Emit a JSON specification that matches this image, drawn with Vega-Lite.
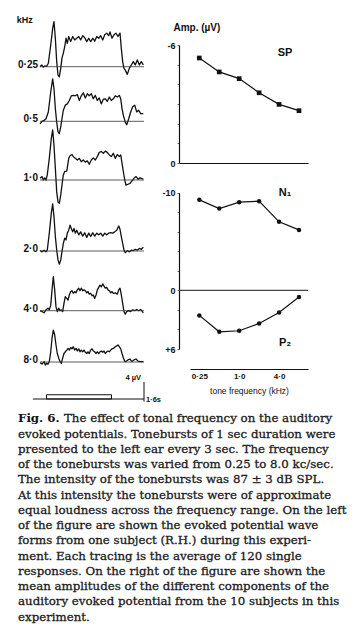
{
"$schema": "https://vega.github.io/schema/vega-lite/v6.json",
"width": 356, "height": 640, "autosize": "none", "padding": 0, "background": "white",
"config": {"view": {"stroke": null}, "axis": {"grid": false, "labelFont": "Liberation Sans", "labelFontWeight": "bold", "labelFontSize": 9, "labelColor": "#111", "domainColor": "#111", "domainWidth": 1.2, "tickColor": "#111", "titleFont": "Liberation Sans", "titleFontWeight": "bold", "titleFontSize": 9, "titleColor": "#111"}},
"datasets": {
"waves": [
{"f":"0.25","t":0,"v":0},{"f":"0.25","t":26,"v":-0.4},{"f":"0.25","t":51,"v":0.1},{"f":"0.25","t":77,"v":-0.2},{"f":"0.25","t":103,"v":-0.1},{"f":"0.25","t":128,"v":-0.8},{"f":"0.25","t":165,"v":-5.1},{"f":"0.25","t":195,"v":-9.0},{"f":"0.25","t":215,"v":-10.6},{"f":"0.25","t":236,"v":-6.7},{"f":"0.25","t":257,"v":-1.2},{"f":"0.25","t":277,"v":2.0},{"f":"0.25","t":297,"v":2.4},{"f":"0.25","t":319,"v":0.4},{"f":"0.25","t":338,"v":-2.0},{"f":"0.25","t":359,"v":-3.2},{"f":"0.25","t":380,"v":-4.7},{"f":"0.25","t":400,"v":-6.7},{"f":"0.25","t":420,"v":-5.5},{"f":"0.25","t":442,"v":-7.1},{"f":"0.25","t":472,"v":-5.9},{"f":"0.25","t":503,"v":-7.1},{"f":"0.25","t":534,"v":-6.3},{"f":"0.25","t":565,"v":-6.7},{"f":"0.25","t":596,"v":-7.1},{"f":"0.25","t":626,"v":-6.3},{"f":"0.25","t":657,"v":-7.3},{"f":"0.25","t":688,"v":-6.8},{"f":"0.25","t":719,"v":-5.9},{"f":"0.25","t":750,"v":-6.7},{"f":"0.25","t":780,"v":-5.9},{"f":"0.25","t":811,"v":-6.7},{"f":"0.25","t":842,"v":-6.0},{"f":"0.25","t":873,"v":-7.1},{"f":"0.25","t":903,"v":-6.7},{"f":"0.25","t":934,"v":-7.3},{"f":"0.25","t":965,"v":-6.3},{"f":"0.25","t":996,"v":-7.5},{"f":"0.25","t":1026,"v":-7.9},{"f":"0.25","t":1057,"v":-7.3},{"f":"0.25","t":1077,"v":-8.2},{"f":"0.25","t":1108,"v":-6.7},{"f":"0.25","t":1138,"v":-7.5},{"f":"0.25","t":1169,"v":-7.9},{"f":"0.25","t":1200,"v":-7.1},{"f":"0.25","t":1231,"v":-7.9},{"f":"0.25","t":1251,"v":-4.3},{"f":"0.25","t":1272,"v":-1.2},{"f":"0.25","t":1292,"v":0.4},{"f":"0.25","t":1312,"v":0.8},{"f":"0.25","t":1343,"v":1.8},{"f":"0.25","t":1374,"v":0.4},{"f":"0.25","t":1405,"v":-0.4},{"f":"0.25","t":1436,"v":-1.2},{"f":"0.25","t":1466,"v":-0.4},{"f":"0.25","t":1497,"v":-1.6},{"f":"0.25","t":1528,"v":-0.4},{"f":"0.25","t":1559,"v":-1.2},{"f":"0.25","t":1590,"v":-0.4},
{"f":"0.5","t":0,"v":0.6},{"f":"0.5","t":31,"v":0},{"f":"0.5","t":62,"v":-0.2},{"f":"0.5","t":92,"v":-0.6},{"f":"0.5","t":128,"v":-2.2},{"f":"0.5","t":165,"v":-6.9},{"f":"0.5","t":195,"v":-10.0},{"f":"0.5","t":215,"v":-7.7},{"f":"0.5","t":236,"v":-3.0},{"f":"0.5","t":257,"v":0.2},{"f":"0.5","t":277,"v":2.5},{"f":"0.5","t":297,"v":2.9},{"f":"0.5","t":319,"v":1.3},{"f":"0.5","t":338,"v":-0.6},{"f":"0.5","t":359,"v":-2.6},{"f":"0.5","t":389,"v":-3.8},{"f":"0.5","t":420,"v":-4.1},{"f":"0.5","t":451,"v":-4.9},{"f":"0.5","t":482,"v":-6.0},{"f":"0.5","t":512,"v":-6.1},{"f":"0.5","t":543,"v":-6.0},{"f":"0.5","t":574,"v":-6.3},{"f":"0.5","t":605,"v":-4.9},{"f":"0.5","t":635,"v":-6.0},{"f":"0.5","t":666,"v":-6.7},{"f":"0.5","t":697,"v":-5.5},{"f":"0.5","t":728,"v":-6.5},{"f":"0.5","t":758,"v":-6.0},{"f":"0.5","t":789,"v":-6.5},{"f":"0.5","t":820,"v":-5.3},{"f":"0.5","t":851,"v":-6.1},{"f":"0.5","t":882,"v":-4.9},{"f":"0.5","t":912,"v":-5.5},{"f":"0.5","t":943,"v":-4.1},{"f":"0.5","t":974,"v":-5.2},{"f":"0.5","t":1005,"v":-5.3},{"f":"0.5","t":1035,"v":-4.7},{"f":"0.5","t":1066,"v":-5.7},{"f":"0.5","t":1097,"v":-4.9},{"f":"0.5","t":1128,"v":-5.3},{"f":"0.5","t":1158,"v":-6.0},{"f":"0.5","t":1189,"v":-5.7},{"f":"0.5","t":1220,"v":-6.1},{"f":"0.5","t":1242,"v":-5.3},{"f":"0.5","t":1262,"v":-3.0},{"f":"0.5","t":1282,"v":-1.4},{"f":"0.5","t":1312,"v":0.2},{"f":"0.5","t":1334,"v":0.8},{"f":"0.5","t":1365,"v":-0.6},{"f":"0.5","t":1395,"v":-2.2},{"f":"0.5","t":1426,"v":-3.4},{"f":"0.5","t":1457,"v":-3.8},{"f":"0.5","t":1488,"v":-2.2},{"f":"0.5","t":1518,"v":-2.6},{"f":"0.5","t":1549,"v":-1.8},{"f":"0.5","t":1589,"v":-1.8},
{"f":"1.0","t":0,"v":-0.4},{"f":"1.0","t":31,"v":-0.8},{"f":"1.0","t":51,"v":0},{"f":"1.0","t":72,"v":-0.5},{"f":"1.0","t":92,"v":0},{"f":"1.0","t":112,"v":-1.2},{"f":"1.0","t":143,"v":-5.1},{"f":"1.0","t":174,"v":-9.8},{"f":"1.0","t":195,"v":-11.8},{"f":"1.0","t":215,"v":-8.2},{"f":"1.0","t":236,"v":-2.8},{"f":"1.0","t":257,"v":2.8},{"f":"1.0","t":277,"v":5.2},{"f":"1.0","t":297,"v":5.5},{"f":"1.0","t":319,"v":3.5},{"f":"1.0","t":338,"v":1.2},{"f":"1.0","t":359,"v":-1.2},{"f":"1.0","t":380,"v":-2.0},{"f":"1.0","t":412,"v":-2.1},{"f":"1.0","t":442,"v":-5.1},{"f":"1.0","t":462,"v":-5.7},{"f":"1.0","t":492,"v":-6.0},{"f":"1.0","t":512,"v":-5.5},{"f":"1.0","t":543,"v":-5.1},{"f":"1.0","t":574,"v":-4.7},{"f":"1.0","t":605,"v":-5.1},{"f":"1.0","t":635,"v":-4.3},{"f":"1.0","t":666,"v":-4.7},{"f":"1.0","t":697,"v":-4.2},{"f":"1.0","t":728,"v":-4.5},{"f":"1.0","t":758,"v":-3.7},{"f":"1.0","t":789,"v":-4.7},{"f":"1.0","t":820,"v":-5.2},{"f":"1.0","t":851,"v":-4.7},{"f":"1.0","t":882,"v":-5.5},{"f":"1.0","t":912,"v":-6.5},{"f":"1.0","t":943,"v":-6.7},{"f":"1.0","t":974,"v":-6.3},{"f":"1.0","t":1005,"v":-6.8},{"f":"1.0","t":1035,"v":-6.5},{"f":"1.0","t":1066,"v":-5.9},{"f":"1.0","t":1097,"v":-5.5},{"f":"1.0","t":1128,"v":-6.3},{"f":"1.0","t":1158,"v":-5.1},{"f":"1.0","t":1189,"v":-6.0},{"f":"1.0","t":1220,"v":-5.5},{"f":"1.0","t":1242,"v":-5.9},{"f":"1.0","t":1262,"v":-3.9},{"f":"1.0","t":1282,"v":-2.0},{"f":"1.0","t":1303,"v":0},{"f":"1.0","t":1323,"v":1.2},{"f":"1.0","t":1354,"v":1.0},{"f":"1.0","t":1385,"v":0.8},{"f":"1.0","t":1415,"v":0.2},{"f":"1.0","t":1446,"v":-0.4},{"f":"1.0","t":1477,"v":-0.8},{"f":"1.0","t":1508,"v":-0.2},{"f":"1.0","t":1538,"v":-0.5},{"f":"1.0","t":1589,"v":-0.2},
{"f":"2.0","t":0,"v":-0.1},{"f":"2.0","t":31,"v":0.2},{"f":"2.0","t":62,"v":-0.2},{"f":"2.0","t":92,"v":0.2},{"f":"2.0","t":112,"v":-0.2},{"f":"2.0","t":143,"v":-4.2},{"f":"2.0","t":174,"v":-8.9},{"f":"2.0","t":195,"v":-11.1},{"f":"2.0","t":215,"v":-8.1},{"f":"2.0","t":236,"v":-3.4},{"f":"2.0","t":257,"v":-0.2},{"f":"2.0","t":277,"v":2.1},{"f":"2.0","t":297,"v":3.1},{"f":"2.0","t":319,"v":2.1},{"f":"2.0","t":338,"v":0.2},{"f":"2.0","t":359,"v":-1.8},{"f":"2.0","t":380,"v":-3.0},{"f":"2.0","t":400,"v":-2.6},{"f":"2.0","t":420,"v":-4.2},{"f":"2.0","t":442,"v":-4.9},{"f":"2.0","t":462,"v":-6.1},{"f":"2.0","t":482,"v":-5.3},{"f":"2.0","t":503,"v":-4.5},{"f":"2.0","t":523,"v":-5.3},{"f":"2.0","t":543,"v":-4.2},{"f":"2.0","t":565,"v":-4.9},{"f":"2.0","t":596,"v":-3.8},{"f":"2.0","t":626,"v":-4.5},{"f":"2.0","t":657,"v":-3.5},{"f":"2.0","t":688,"v":-4.3},{"f":"2.0","t":719,"v":-3.2},{"f":"2.0","t":750,"v":-4.2},{"f":"2.0","t":780,"v":-3.4},{"f":"2.0","t":811,"v":-4.3},{"f":"2.0","t":842,"v":-3.5},{"f":"2.0","t":873,"v":-4.2},{"f":"2.0","t":903,"v":-3.8},{"f":"2.0","t":934,"v":-4.2},{"f":"2.0","t":965,"v":-3.5},{"f":"2.0","t":996,"v":-4.2},{"f":"2.0","t":1026,"v":-3.8},{"f":"2.0","t":1057,"v":-4.2},{"f":"2.0","t":1088,"v":-4.3},{"f":"2.0","t":1119,"v":-4.2},{"f":"2.0","t":1149,"v":-4.5},{"f":"2.0","t":1180,"v":-4.9},{"f":"2.0","t":1211,"v":-5.9},{"f":"2.0","t":1231,"v":-5.1},{"f":"2.0","t":1251,"v":-3.4},{"f":"2.0","t":1272,"v":-1.8},{"f":"2.0","t":1292,"v":-0.2},{"f":"2.0","t":1312,"v":0.4},{"f":"2.0","t":1343,"v":-0.1},{"f":"2.0","t":1374,"v":0.2},{"f":"2.0","t":1405,"v":-0.2},{"f":"2.0","t":1436,"v":-0.1},{"f":"2.0","t":1466,"v":-0.4},{"f":"2.0","t":1497,"v":-0.2},{"f":"2.0","t":1528,"v":-0.6},{"f":"2.0","t":1559,"v":-0.4},{"f":"2.0","t":1590,"v":-0.9},
{"f":"4.0","t":0,"v":0},{"f":"4.0","t":31,"v":0.2},{"f":"4.0","t":62,"v":0.5},{"f":"4.0","t":92,"v":-0.2},{"f":"4.0","t":123,"v":-0.6},{"f":"4.0","t":143,"v":-0.2},{"f":"4.0","t":165,"v":-1.3},{"f":"4.0","t":185,"v":-4.9},{"f":"4.0","t":205,"v":-8.0},{"f":"4.0","t":226,"v":-4.9},{"f":"4.0","t":246,"v":-0.9},{"f":"4.0","t":266,"v":0.2},{"f":"4.0","t":288,"v":-0.6},{"f":"4.0","t":308,"v":0},{"f":"4.0","t":328,"v":-0.2},{"f":"4.0","t":349,"v":0.2},{"f":"4.0","t":369,"v":-1.7},{"f":"4.0","t":389,"v":-3.3},{"f":"4.0","t":412,"v":-2.9},{"f":"4.0","t":431,"v":-2.5},{"f":"4.0","t":451,"v":-3.7},{"f":"4.0","t":472,"v":-4.5},{"f":"4.0","t":492,"v":-4.7},{"f":"4.0","t":512,"v":-4.1},{"f":"4.0","t":534,"v":-4.5},{"f":"4.0","t":554,"v":-4.2},{"f":"4.0","t":574,"v":-4.9},{"f":"4.0","t":596,"v":-5.3},{"f":"4.0","t":615,"v":-4.7},{"f":"4.0","t":635,"v":-5.3},{"f":"4.0","t":657,"v":-4.7},{"f":"4.0","t":677,"v":-4.9},{"f":"4.0","t":697,"v":-4.7},{"f":"4.0","t":719,"v":-4.2},{"f":"4.0","t":738,"v":-4.5},{"f":"4.0","t":758,"v":-3.9},{"f":"4.0","t":780,"v":-4.1},{"f":"4.0","t":800,"v":-3.5},{"f":"4.0","t":820,"v":-3.7},{"f":"4.0","t":842,"v":-2.9},{"f":"4.0","t":862,"v":-3.7},{"f":"4.0","t":882,"v":-4.9},{"f":"4.0","t":903,"v":-5.5},{"f":"4.0","t":923,"v":-6.0},{"f":"4.0","t":943,"v":-5.6},{"f":"4.0","t":965,"v":-6.3},{"f":"4.0","t":985,"v":-5.8},{"f":"4.0","t":1005,"v":-5.3},{"f":"4.0","t":1026,"v":-5.5},{"f":"4.0","t":1046,"v":-4.9},{"f":"4.0","t":1066,"v":-4.7},{"f":"4.0","t":1088,"v":-4.2},{"f":"4.0","t":1108,"v":-4.5},{"f":"4.0","t":1128,"v":-4.1},{"f":"4.0","t":1158,"v":-4.2},{"f":"4.0","t":1189,"v":-3.9},{"f":"4.0","t":1211,"v":-4.9},{"f":"4.0","t":1231,"v":-5.3},{"f":"4.0","t":1251,"v":-3.7},{"f":"4.0","t":1272,"v":-1.7},{"f":"4.0","t":1292,"v":0.2},{"f":"4.0","t":1312,"v":0.8},{"f":"4.0","t":1334,"v":0.2},{"f":"4.0","t":1365,"v":0},{"f":"4.0","t":1395,"v":0.2},{"f":"4.0","t":1426,"v":-0.2},{"f":"4.0","t":1457,"v":0},{"f":"4.0","t":1488,"v":-0.3},{"f":"4.0","t":1518,"v":0},{"f":"4.0","t":1549,"v":-0.3},{"f":"4.0","t":1589,"v":0.5},
{"f":"8.0","t":0,"v":0.1},{"f":"8.0","t":31,"v":0.5},{"f":"8.0","t":62,"v":-0.1},{"f":"8.0","t":82,"v":0.7},{"f":"8.0","t":103,"v":0.3},{"f":"8.0","t":123,"v":0.5},{"f":"8.0","t":143,"v":-0.1},{"f":"8.0","t":165,"v":-2.4},{"f":"8.0","t":185,"v":-5.6},{"f":"8.0","t":205,"v":-7.5},{"f":"8.0","t":226,"v":-6.4},{"f":"8.0","t":246,"v":-4.0},{"f":"8.0","t":266,"v":-2.0},{"f":"8.0","t":288,"v":-0.9},{"f":"8.0","t":308,"v":-0.1},{"f":"8.0","t":328,"v":0.3},{"f":"8.0","t":349,"v":-0.9},{"f":"8.0","t":369,"v":-2.0},{"f":"8.0","t":389,"v":-2.4},{"f":"8.0","t":412,"v":-2.8},{"f":"8.0","t":431,"v":-3.2},{"f":"8.0","t":451,"v":-2.8},{"f":"8.0","t":472,"v":-3.4},{"f":"8.0","t":492,"v":-3.1},{"f":"8.0","t":512,"v":-3.6},{"f":"8.0","t":534,"v":-2.8},{"f":"8.0","t":554,"v":-3.2},{"f":"8.0","t":574,"v":-2.6},{"f":"8.0","t":596,"v":-3.1},{"f":"8.0","t":615,"v":-2.4},{"f":"8.0","t":635,"v":-2.8},{"f":"8.0","t":657,"v":-2.4},{"f":"8.0","t":677,"v":-2.8},{"f":"8.0","t":697,"v":-2.3},{"f":"8.0","t":719,"v":-2.0},{"f":"8.0","t":738,"v":-2.4},{"f":"8.0","t":758,"v":-2.0},{"f":"8.0","t":780,"v":-2.8},{"f":"8.0","t":800,"v":-3.1},{"f":"8.0","t":820,"v":-2.6},{"f":"8.0","t":842,"v":-2.4},{"f":"8.0","t":862,"v":-2.0},{"f":"8.0","t":882,"v":-2.4},{"f":"8.0","t":903,"v":-2.0},{"f":"8.0","t":923,"v":-2.4},{"f":"8.0","t":943,"v":-2.6},{"f":"8.0","t":965,"v":-2.3},{"f":"8.0","t":985,"v":-2.6},{"f":"8.0","t":1005,"v":-2.0},{"f":"8.0","t":1026,"v":-2.4},{"f":"8.0","t":1046,"v":-2.6},{"f":"8.0","t":1066,"v":-2.4},{"f":"8.0","t":1088,"v":-2.8},{"f":"8.0","t":1108,"v":-3.1},{"f":"8.0","t":1128,"v":-3.2},{"f":"8.0","t":1158,"v":-3.6},{"f":"8.0","t":1180,"v":-3.8},{"f":"8.0","t":1200,"v":-4.0},{"f":"8.0","t":1220,"v":-3.6},{"f":"8.0","t":1242,"v":-3.1},{"f":"8.0","t":1262,"v":-2.0},{"f":"8.0","t":1282,"v":-1.0},{"f":"8.0","t":1303,"v":-0.2},{"f":"8.0","t":1323,"v":-0.1},{"f":"8.0","t":1354,"v":-0.5},{"f":"8.0","t":1385,"v":-0.7},{"f":"8.0","t":1415,"v":-0.1},{"f":"8.0","t":1446,"v":-0.5},{"f":"8.0","t":1477,"v":-0.7},{"f":"8.0","t":1508,"v":-0.2},{"f":"8.0","t":1538,"v":-0.1},{"f":"8.0","t":1589,"v":-0.1}
],
"amp": [
{"c":"SP","f":0.25,"v":-5.34},{"c":"SP","f":0.5,"v":-4.63},{"c":"SP","f":1,"v":-4.29},{"c":"SP","f":2,"v":-3.57},{"c":"SP","f":4,"v":-2.98},{"c":"SP","f":8,"v":-2.66},
{"c":"N1","f":0.25,"v":-9.27},{"c":"N1","f":0.5,"v":-8.38},{"c":"N1","f":1,"v":-9.03},{"c":"N1","f":2,"v":-9.13},{"c":"N1","f":4,"v":-7.02},{"c":"N1","f":8,"v":-6.19},
{"c":"P2","f":0.25,"v":2.56},{"c":"P2","f":0.5,"v":4.24},{"c":"P2","f":1,"v":4.13},{"c":"P2","f":2,"v":3.38},{"c":"P2","f":4,"v":2.26},{"c":"P2","f":8,"v":0.68}
],
"cap": [
{"i":1,"s":"The effect of tonal frequency on the auditory"},
{"i":2,"s":"evoked potentials. Tonebursts of 1 sec duration were"},
{"i":3,"s":"presented to the left ear every 3 sec. The frequency"},
{"i":4,"s":"of the tonebursts was varied from 0.25 to 8.0 kc/sec."},
{"i":5,"s":"The intensity of the tonebursts was 87 ± 3 dB SPL."},
{"i":6,"s":"At this intensity the tonebursts were of approximate"},
{"i":7,"s":"equal loudness across the frequency range. On the left"},
{"i":8,"s":"of the figure are shown the evoked potential wave"},
{"i":9,"s":"forms from one subject (R.H.) during this experi-"},
{"i":10,"s":"ment. Each tracing is the average of 120 single"},
{"i":11,"s":"responses. On the right of the figure are shown the"},
{"i":12,"s":"mean amplitudes of the different components of the"},
{"i":13,"s":"auditory evoked potential from the 10 subjects in this"},
{"i":14,"s":"experiment."}
]
},
"resolve": {"scale": {"x": "independent", "y": "independent"}, "axis": {"x": "independent", "y": "independent"}},
"layer": [
{"layer": [
 {"data": {"name": "waves"}, "transform": [{"filter": "datum.f == '0.25'"}], "mark": {"type": "line", "color": "#111", "strokeWidth": 1.3, "strokeJoin": "round"},
  "encoding": {"x": {"field": "t", "type": "quantitative", "scale": {"domain": [0, 1600], "range": [40, 144], "nice": false, "zero": false}, "axis": null},
   "y": {"field": "v", "type": "quantitative", "scale": {"domain": [-14, 6], "range": [7.2, 92.2], "nice": false, "zero": false}, "axis": null}}},
 {"data": {"values": [{}]}, "mark": {"type": "rule", "color": "#333", "strokeWidth": 0.8},
  "encoding": {"x": {"datum": 0, "type": "quantitative", "scale": {"domain": [0, 1600], "range": [40, 144], "nice": false, "zero": false}, "axis": null}, "x2": {"datum": 1600},
   "y": {"datum": 0, "type": "quantitative", "scale": {"domain": [-14, 6], "range": [7.2, 92.2], "nice": false, "zero": false}, "axis": null}}},
 {"data": {"values": [{"lab": "0·25"}]}, "mark": {"type": "text", "align": "right", "baseline": "alphabetic", "dx": -2, "dy": 1, "font": "Liberation Sans", "fontWeight": "bold", "fontSize": 10, "color": "#111"},
  "encoding": {"x": {"datum": 0, "type": "quantitative", "scale": {"domain": [0, 1600], "range": [40, 144], "nice": false, "zero": false}, "axis": null},
   "y": {"datum": 0, "type": "quantitative", "scale": {"domain": [-14, 6], "range": [7.2, 92.2], "nice": false, "zero": false}, "axis": null}, "text": {"field": "lab"}}},
 {"data": {"values": [{"lab": "kHz"}]}, "mark": {"type": "text", "align": "left", "baseline": "middle", "font": "Liberation Sans", "fontWeight": "bold", "fontSize": 9, "color": "#111"},
  "encoding": {"x": {"datum": -358, "type": "quantitative", "scale": {"domain": [0, 1600], "range": [40, 144], "nice": false, "zero": false}, "axis": null},
   "y": {"datum": -11, "type": "quantitative", "scale": {"domain": [-14, 6], "range": [7.2, 92.2], "nice": false, "zero": false}, "axis": null}, "text": {"field": "lab"}}}
]},
{"layer": [
 {"data": {"name": "waves"}, "transform": [{"filter": "datum.f == '0.5'"}], "mark": {"type": "line", "color": "#111", "strokeWidth": 1.3, "strokeJoin": "round"},
  "encoding": {"x": {"field": "t", "type": "quantitative", "scale": {"domain": [0, 1600], "range": [40, 144], "nice": false, "zero": false}, "axis": null},
   "y": {"field": "v", "type": "quantitative", "scale": {"domain": [-14, 6], "range": [61.8, 146.8], "nice": false, "zero": false}, "axis": null}}},
 {"data": {"values": [{}]}, "mark": {"type": "rule", "color": "#333", "strokeWidth": 0.8},
  "encoding": {"x": {"datum": 0, "type": "quantitative", "scale": {"domain": [0, 1600], "range": [40, 144], "nice": false, "zero": false}, "axis": null}, "x2": {"datum": 1600},
   "y": {"datum": 0, "type": "quantitative", "scale": {"domain": [-14, 6], "range": [61.8, 146.8], "nice": false, "zero": false}, "axis": null}}},
 {"data": {"values": [{"lab": "0·5"}]}, "mark": {"type": "text", "align": "right", "baseline": "alphabetic", "dx": -2, "dy": 1, "font": "Liberation Sans", "fontWeight": "bold", "fontSize": 10, "color": "#111"},
  "encoding": {"x": {"datum": 0, "type": "quantitative", "scale": {"domain": [0, 1600], "range": [40, 144], "nice": false, "zero": false}, "axis": null},
   "y": {"datum": 0, "type": "quantitative", "scale": {"domain": [-14, 6], "range": [61.8, 146.8], "nice": false, "zero": false}, "axis": null}, "text": {"field": "lab"}}}
]},
{"layer": [
 {"data": {"name": "waves"}, "transform": [{"filter": "datum.f == '1.0'"}], "mark": {"type": "line", "color": "#111", "strokeWidth": 1.3, "strokeJoin": "round"},
  "encoding": {"x": {"field": "t", "type": "quantitative", "scale": {"domain": [0, 1600], "range": [40, 144], "nice": false, "zero": false}, "axis": null},
   "y": {"field": "v", "type": "quantitative", "scale": {"domain": [-14, 6], "range": [120.5, 205.5], "nice": false, "zero": false}, "axis": null}}},
 {"data": {"values": [{}]}, "mark": {"type": "rule", "color": "#333", "strokeWidth": 0.8},
  "encoding": {"x": {"datum": 0, "type": "quantitative", "scale": {"domain": [0, 1600], "range": [40, 144], "nice": false, "zero": false}, "axis": null}, "x2": {"datum": 1600},
   "y": {"datum": 0, "type": "quantitative", "scale": {"domain": [-14, 6], "range": [120.5, 205.5], "nice": false, "zero": false}, "axis": null}}},
 {"data": {"values": [{"lab": "1·0"}]}, "mark": {"type": "text", "align": "right", "baseline": "alphabetic", "dx": -2, "dy": 1, "font": "Liberation Sans", "fontWeight": "bold", "fontSize": 10, "color": "#111"},
  "encoding": {"x": {"datum": 0, "type": "quantitative", "scale": {"domain": [0, 1600], "range": [40, 144], "nice": false, "zero": false}, "axis": null},
   "y": {"datum": 0, "type": "quantitative", "scale": {"domain": [-14, 6], "range": [120.5, 205.5], "nice": false, "zero": false}, "axis": null}, "text": {"field": "lab"}}}
]},
{"layer": [
 {"data": {"name": "waves"}, "transform": [{"filter": "datum.f == '2.0'"}], "mark": {"type": "line", "color": "#111", "strokeWidth": 1.3, "strokeJoin": "round"},
  "encoding": {"x": {"field": "t", "type": "quantitative", "scale": {"domain": [0, 1600], "range": [40, 144], "nice": false, "zero": false}, "axis": null},
   "y": {"field": "v", "type": "quantitative", "scale": {"domain": [-14, 6], "range": [191.5, 276.5], "nice": false, "zero": false}, "axis": null}}},
 {"data": {"values": [{}]}, "mark": {"type": "rule", "color": "#333", "strokeWidth": 0.8},
  "encoding": {"x": {"datum": 0, "type": "quantitative", "scale": {"domain": [0, 1600], "range": [40, 144], "nice": false, "zero": false}, "axis": null}, "x2": {"datum": 1600},
   "y": {"datum": 0, "type": "quantitative", "scale": {"domain": [-14, 6], "range": [191.5, 276.5], "nice": false, "zero": false}, "axis": null}}},
 {"data": {"values": [{"lab": "2·0"}]}, "mark": {"type": "text", "align": "right", "baseline": "alphabetic", "dx": -2, "dy": 1, "font": "Liberation Sans", "fontWeight": "bold", "fontSize": 10, "color": "#111"},
  "encoding": {"x": {"datum": 0, "type": "quantitative", "scale": {"domain": [0, 1600], "range": [40, 144], "nice": false, "zero": false}, "axis": null},
   "y": {"datum": 0, "type": "quantitative", "scale": {"domain": [-14, 6], "range": [191.5, 276.5], "nice": false, "zero": false}, "axis": null}, "text": {"field": "lab"}}}
]},
{"layer": [
 {"data": {"name": "waves"}, "transform": [{"filter": "datum.f == '4.0'"}], "mark": {"type": "line", "color": "#111", "strokeWidth": 1.3, "strokeJoin": "round"},
  "encoding": {"x": {"field": "t", "type": "quantitative", "scale": {"domain": [0, 1600], "range": [40, 144], "nice": false, "zero": false}, "axis": null},
   "y": {"field": "v", "type": "quantitative", "scale": {"domain": [-14, 6], "range": [251.2, 336.2], "nice": false, "zero": false}, "axis": null}}},
 {"data": {"values": [{}]}, "mark": {"type": "rule", "color": "#333", "strokeWidth": 0.8},
  "encoding": {"x": {"datum": 0, "type": "quantitative", "scale": {"domain": [0, 1600], "range": [40, 144], "nice": false, "zero": false}, "axis": null}, "x2": {"datum": 1600},
   "y": {"datum": 0, "type": "quantitative", "scale": {"domain": [-14, 6], "range": [251.2, 336.2], "nice": false, "zero": false}, "axis": null}}},
 {"data": {"values": [{"lab": "4·0"}]}, "mark": {"type": "text", "align": "right", "baseline": "alphabetic", "dx": -2, "dy": 1, "font": "Liberation Sans", "fontWeight": "bold", "fontSize": 10, "color": "#111"},
  "encoding": {"x": {"datum": 0, "type": "quantitative", "scale": {"domain": [0, 1600], "range": [40, 144], "nice": false, "zero": false}, "axis": null},
   "y": {"datum": 0, "type": "quantitative", "scale": {"domain": [-14, 6], "range": [251.2, 336.2], "nice": false, "zero": false}, "axis": null}, "text": {"field": "lab"}}}
]},
{"layer": [
 {"data": {"name": "waves"}, "transform": [{"filter": "datum.f == '8.0'"}], "mark": {"type": "line", "color": "#111", "strokeWidth": 1.3, "strokeJoin": "round"},
  "encoding": {"x": {"field": "t", "type": "quantitative", "scale": {"domain": [0, 1600], "range": [40, 144], "nice": false, "zero": false}, "axis": null},
   "y": {"field": "v", "type": "quantitative", "scale": {"domain": [-14, 6], "range": [302.5, 387.5], "nice": false, "zero": false}, "axis": null}}},
 {"data": {"values": [{}]}, "mark": {"type": "rule", "color": "#333", "strokeWidth": 0.8},
  "encoding": {"x": {"datum": 0, "type": "quantitative", "scale": {"domain": [0, 1600], "range": [40, 144], "nice": false, "zero": false}, "axis": null}, "x2": {"datum": 1600},
   "y": {"datum": 0, "type": "quantitative", "scale": {"domain": [-14, 6], "range": [302.5, 387.5], "nice": false, "zero": false}, "axis": null}}},
 {"data": {"values": [{"lab": "8·0"}]}, "mark": {"type": "text", "align": "right", "baseline": "alphabetic", "dx": -2, "dy": 1, "font": "Liberation Sans", "fontWeight": "bold", "fontSize": 10, "color": "#111"},
  "encoding": {"x": {"datum": 0, "type": "quantitative", "scale": {"domain": [0, 1600], "range": [40, 144], "nice": false, "zero": false}, "axis": null},
   "y": {"datum": 0, "type": "quantitative", "scale": {"domain": [-14, 6], "range": [302.5, 387.5], "nice": false, "zero": false}, "axis": null}, "text": {"field": "lab"}}}
]},
{"layer": [
 {"data": {"values": [{}]}, "mark": {"type": "rule", "color": "#111", "strokeWidth": 1},
  "encoding": {"x": {"datum": -110, "type": "quantitative", "scale": {"domain": [0, 1600], "range": [40, 144], "nice": false, "zero": false}, "axis": null}, "x2": {"datum": 1600},
   "y": {"datum": 0, "type": "quantitative", "scale": {"domain": [-14, 6], "range": [339.5, 424.5], "nice": false, "zero": false}, "axis": null}}},
 {"data": {"values": [{}]}, "mark": {"type": "rule", "color": "#111", "strokeWidth": 1},
  "encoding": {"x": {"datum": 1600, "type": "quantitative", "scale": {"domain": [0, 1600], "range": [40, 144], "nice": false, "zero": false}, "axis": null},
   "y": {"datum": 0.6, "type": "quantitative", "scale": {"domain": [-14, 6], "range": [339.5, 424.5], "nice": false, "zero": false}, "axis": null}, "y2": {"datum": -4}}},
 {"data": {"values": [{}]}, "mark": {"type": "rect", "fill": null, "stroke": "#111", "strokeWidth": 1},
  "encoding": {"x": {"datum": 100, "type": "quantitative", "scale": {"domain": [0, 1600], "range": [40, 144], "nice": false, "zero": false}, "axis": null}, "x2": {"datum": 1100},
   "y": {"datum": 0, "type": "quantitative", "scale": {"domain": [-14, 6], "range": [339.5, 424.5], "nice": false, "zero": false}, "axis": null}, "y2": {"datum": -1}}},
 {"data": {"values": [{"lab": "4 µV"}]}, "mark": {"type": "text", "align": "right", "baseline": "middle", "dx": -3, "font": "Liberation Sans", "fontWeight": "bold", "fontSize": 7.5, "color": "#111"},
  "encoding": {"x": {"datum": 1600, "type": "quantitative", "scale": {"domain": [0, 1600], "range": [40, 144], "nice": false, "zero": false}, "axis": null},
   "y": {"datum": -5, "type": "quantitative", "scale": {"domain": [-14, 6], "range": [339.5, 424.5], "nice": false, "zero": false}, "axis": null}, "text": {"field": "lab"}}},
 {"data": {"values": [{"lab": "1·6s"}]}, "mark": {"type": "text", "align": "left", "baseline": "middle", "dx": 2, "font": "Liberation Sans", "fontWeight": "bold", "fontSize": 7.5, "color": "#111"},
  "encoding": {"x": {"datum": 1600, "type": "quantitative", "scale": {"domain": [0, 1600], "range": [40, 144], "nice": false, "zero": false}, "axis": null},
   "y": {"datum": 0.3, "type": "quantitative", "scale": {"domain": [-14, 6], "range": [339.5, 424.5], "nice": false, "zero": false}, "axis": null}, "text": {"field": "lab"}}}
]},
{"data": {"name": "amp"}, "transform": [{"filter": "datum.c == 'SP'"}],
 "mark": {"type": "line", "color": "#111", "strokeWidth": 1.2, "point": {"shape": "square", "filled": true, "size": 22, "color": "#111"}},
 "encoding": {
  "x": {"field": "f", "type": "quantitative", "scale": {"type": "log", "base": 2, "domain": [0.1235, 10.94], "range": [179, 308], "nice": false},
   "axis": {"orient": "bottom", "offset": -477, "labels": false, "ticks": false, "title": null}},
  "y": {"field": "v", "type": "quantitative", "scale": {"domain": [-6, 0], "range": [45, 163], "nice": false, "zero": false},
   "axis": {"orient": "left", "offset": -179, "values": [-6, -5, -4, -3, -2, -1, 0], "labelExpr": "datum.value == -6 ? '-6' : datum.value == 0 ? '0' : ''", "tickSize": 2, "tickColor": "#666", "labelPadding": 2, "labelFontSize": 9,
    "title": "Amp. (µV)", "titleAngle": 0, "titleX": -6, "titleY": 27, "titleAlign": "left", "titleBaseline": "middle", "titleFontSize": 10}}}},
{"data": {"name": "amp"}, "transform": [{"filter": "datum.c != 'SP'"}],
 "mark": {"type": "line", "color": "#111", "strokeWidth": 1.2, "point": {"shape": "circle", "filled": true, "size": 20, "color": "#111"}},
 "encoding": {
  "x": {"field": "f", "type": "quantitative", "scale": {"type": "log", "base": 2, "domain": [0.1808, 10.94], "range": [190, 308], "nice": false},
   "axis": {"orient": "bottom", "offset": -271, "values": [0.25, 1, 4], "labelExpr": "datum.value < 0.5 ? '0·25' : datum.value < 2 ? '1·0' : '4·0'", "ticks": false, "labelPadding": 3, "labelFontSize": 8,
    "title": "tone frequency (kHz)", "titleFontSize": 8.5, "titleFontWeight": "normal", "titlePadding": 6}},
  "y": {"field": "v", "type": "quantitative", "scale": {"domain": [-10, 6], "range": [192.7, 349], "nice": false, "zero": false},
   "axis": {"orient": "left", "offset": -179, "values": [-10, -8, -6, -4, -2, 0, 2, 4, 6], "labelExpr": "datum.value == -10 ? '-10' : datum.value == 0 ? '0' : datum.value == 6 ? '+6' : ''", "tickSize": 2, "tickColor": "#666", "labelPadding": 2, "labelFontSize": 9, "title": null}},
  "detail": {"field": "c"}}},
{"data": {"values": [{}]}, "mark": {"type": "rule", "color": "#444", "strokeWidth": 1.2},
 "encoding": {"x": {"datum": 0.124, "type": "quantitative", "scale": {"type": "log", "base": 2, "domain": [0.1808, 10.94], "range": [190, 308], "nice": false}, "axis": null}, "x2": {"datum": 10.94},
  "y": {"datum": 0, "type": "quantitative", "scale": {"domain": [-10, 6], "range": [192.7, 349], "nice": false, "zero": false}, "axis": null}}},
{"data": {"values": [{"lab": "N₁", "f": 4.92, "v": -10.0}, {"lab": "P₂", "f": 4.92, "v": 5.4}]}, "mark": {"type": "text", "align": "center", "baseline": "middle", "font": "Liberation Sans", "fontWeight": "bold", "fontSize": 11, "color": "#111"},
 "encoding": {"x": {"field": "f", "type": "quantitative", "scale": {"type": "log", "base": 2, "domain": [0.1808, 10.94], "range": [190, 308], "nice": false}, "axis": null},
  "y": {"field": "v", "type": "quantitative", "scale": {"domain": [-10, 6], "range": [192.7, 349], "nice": false, "zero": false}, "axis": null}, "text": {"field": "lab"}}},
{"data": {"values": [{"lab": "SP", "f": 4.92, "v": -5.59}]}, "mark": {"type": "text", "align": "center", "baseline": "middle", "font": "Liberation Sans", "fontWeight": "bold", "fontSize": 11, "color": "#111"},
 "encoding": {"x": {"field": "f", "type": "quantitative", "scale": {"type": "log", "base": 2, "domain": [0.1235, 10.94], "range": [179, 308], "nice": false}, "axis": null},
  "y": {"field": "v", "type": "quantitative", "scale": {"domain": [-6, 0], "range": [45, 163], "nice": false, "zero": false}, "axis": null}, "text": {"field": "lab"}}},
{"data": {"name": "cap"}, "transform": [{"filter": "datum.i > 1"}],
 "mark": {"type": "text", "align": "left", "baseline": "middle", "font": "DejaVu Serif", "fontSize": 11.8, "color": "#1a1a1a", "stroke": "#1a1a1a", "strokeWidth": 0.3},
 "encoding": {"x": {"datum": 0, "type": "quantitative", "scale": {"domain": [0, 1], "range": [18, 343], "nice": false, "zero": false}, "axis": null},
  "y": {"field": "i", "type": "quantitative", "scale": {"domain": [1, 14], "range": [418.3, 616.7], "nice": false, "zero": false}, "axis": null}, "text": {"field": "s"}}},
{"data": {"name": "cap"}, "transform": [{"filter": "datum.i == 1"}],
 "mark": {"type": "text", "align": "left", "baseline": "middle", "dx": 46, "font": "DejaVu Serif", "fontSize": 11.8, "color": "#1a1a1a", "stroke": "#1a1a1a", "strokeWidth": 0.3},
 "encoding": {"x": {"datum": 0, "type": "quantitative", "scale": {"domain": [0, 1], "range": [18, 343], "nice": false, "zero": false}, "axis": null},
  "y": {"field": "i", "type": "quantitative", "scale": {"domain": [1, 14], "range": [418.3, 616.7], "nice": false, "zero": false}, "axis": null}, "text": {"field": "s"}}},
{"data": {"values": [{"s": "Fig. 6.", "i": 1}]},
 "mark": {"type": "text", "align": "left", "baseline": "middle", "font": "DejaVu Serif", "fontWeight": "bold", "fontSize": 11.8, "color": "#111"},
 "encoding": {"x": {"datum": 0, "type": "quantitative", "scale": {"domain": [0, 1], "range": [18, 343], "nice": false, "zero": false}, "axis": null},
  "y": {"field": "i", "type": "quantitative", "scale": {"domain": [1, 14], "range": [418.3, 616.7], "nice": false, "zero": false}, "axis": null}, "text": {"field": "s"}}}
]
}
